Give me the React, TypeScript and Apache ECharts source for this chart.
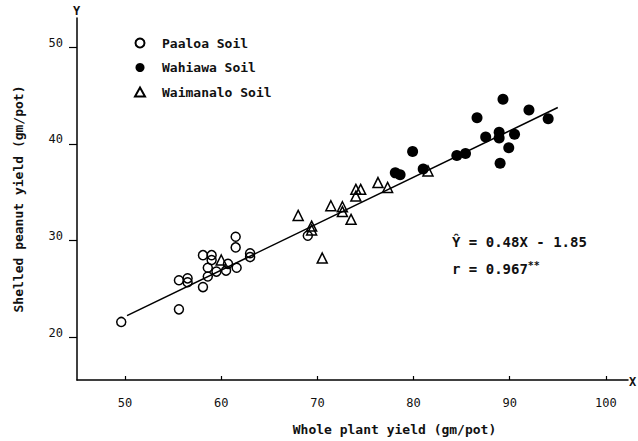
import React, { useEffect, useRef } from "react";
import * as echarts from "echarts";

const seriesNames = ["Paaloa Soil", "Wahiawa Soil", "Waimanalo Soil"];

const paaloaX = [49.6, 55.6, 55.6, 56.5, 56.5, 58.1, 58.1, 59.0, 59.0, 58.6, 58.6, 59.5, 60.7, 60.5, 61.6, 61.5, 61.5, 63.0, 63.0, 69.0];
const paaloaY = [21.6, 22.9, 25.9, 26.1, 25.7, 25.2, 28.5, 28.5, 28.0, 27.2, 26.3, 26.8, 27.6, 26.9, 27.2, 29.3, 30.4, 28.7, 28.3, 30.5];

const wahiawaX = [79.9, 78.1, 78.6, 81.0, 84.5, 85.4, 86.6, 87.5, 88.9, 88.9, 90.5, 89.9, 89.3, 89.0, 92.0, 94.0];
const wahiawaY = [39.2, 37.0, 36.8, 37.4, 38.8, 39.0, 42.7, 40.7, 41.2, 40.6, 41.0, 39.6, 44.6, 38.0, 43.5, 42.6];

const waimanaloX = [60.0, 68.0, 69.4, 69.4, 70.5, 71.4, 72.6, 72.6, 73.5, 74.0, 74.5, 74.0, 76.3, 77.3, 81.5];
const waimanaloY = [28.0, 32.6, 31.5, 31.1, 28.2, 33.6, 33.5, 33.0, 32.2, 35.3, 35.3, 34.6, 36.0, 35.5, 37.2];

const regressionX = [50.2, 95.0];
const regressionY = [22.25, 43.75];

const xTicks = [50, 60, 70, 80, 90, 100];
const yTicks = [20, 30, 40, 50];

const equationText = "Ŷ = 0.48X - 1.85";
const rText = "r = 0.967";
const rSup = "**";

const zip = (xs: number[], ys: number[]) => xs.map((x, i) => [x, ys[i]]);

const MONO = '"DejaVu Sans Mono", "Liberation Mono", monospace';

export default function App() {
  const ref = useRef<HTMLDivElement>(null);
  useEffect(() => {
    if (!ref.current) return;
    const chart = echarts.init(ref.current, undefined, { renderer: "svg" });
    chart.setOption({
      animation: false,
      backgroundColor: "#fff",
      grid: { left: 77, right: 10, top: 18, bottom: 58 },
      legend: {
        orient: "vertical",
        left: 129,
        top: 31,
        padding: 5,
        itemWidth: 10,
        itemHeight: 9,
        itemGap: 10.5,
        data: seriesNames,
        textStyle: {
          fontFamily: MONO,
          fontWeight: "bold",
          fontSize: 13,
          lineHeight: 14,
          color: "#111",
          padding: [0, 0, 0, 12],
        },
      },
      xAxis: {
        type: "value",
        min: 45,
        max: 102.3,
        name: "Whole plant yield (gm/pot)",
        nameLocation: "middle",
        nameGap: 43,
        nameTextStyle: {
          fontFamily: MONO,
          fontWeight: "bold",
          fontSize: 13,
          color: "#111",
          padding: [0, 0, 0, 84],
        },
        splitLine: { show: false },
        axisLine: { lineStyle: { color: "#000", width: 1.5 } },
        axisTick: { inside: true, length: 4, lineStyle: { color: "#000", width: 1.2 }, customValues: xTicks },
        axisLabel: { customValues: xTicks, margin: 17, fontFamily: MONO, fontSize: 12, color: "#111" },
      },
      yAxis: {
        type: "value",
        min: 15.6,
        max: 53,
        name: "Shelled peanut yield (gm/pot)",
        nameLocation: "middle",
        nameGap: 52,
        nameTextStyle: { fontFamily: MONO, fontWeight: "bold", fontSize: 13, color: "#111" },
        splitLine: { show: false },
        axisLine: { lineStyle: { color: "#000", width: 1.5 } },
        axisTick: { inside: false, length: 8, lineStyle: { color: "#000", width: 1.2 }, customValues: yTicks },
        axisLabel: {
          customValues: yTicks,
          margin: 14,
          fontFamily: MONO,
          fontSize: 12,
          lineHeight: 9,
          color: "#111",
          verticalAlign: "bottom",
        },
      },
      graphic: [
        { type: "text", left: 73, top: 5, style: { text: "Y", font: `bold 12px ${MONO}`, fill: "#111" } },
        { type: "text", left: 629, top: 376, style: { text: "X", font: `bold 12px ${MONO}`, fill: "#111" } },
        { type: "text", left: 452, top: 235, style: { text: equationText, font: `bold 14px ${MONO}`, fill: "#111" } },
        {
          type: "text",
          left: 452,
          top: 260,
          style: {
            text: `${rText}{sup|${rSup}}`,
            font: `bold 14px ${MONO}`,
            fill: "#111",
            rich: {
              sup: { fontFamily: MONO, fontWeight: "bold", fontSize: 10, verticalAlign: "top", padding: [0, 0, 8, 0], fill: "#111" },
            },
          },
        },
      ],
      series: [
        {
          type: "line",
          data: zip(regressionX, regressionY),
          showSymbol: false,
          lineStyle: { color: "#000", width: 1.5 },
          z: 1,
          silent: true,
        },
        {
          name: seriesNames[0],
          type: "scatter",
          data: zip(paaloaX, paaloaY),
          symbol: "circle",
          symbolSize: 9,
          itemStyle: { color: "rgba(255,255,255,0)", borderColor: "#000", borderWidth: 1.5, opacity: 1 },
          z: 3,
        },
        {
          name: seriesNames[1],
          type: "scatter",
          data: zip(wahiawaX, wahiawaY),
          symbol: "circle",
          symbolSize: 11,
          itemStyle: { color: "#000", opacity: 1 },
          z: 3,
        },
        {
          name: seriesNames[2],
          type: "scatter",
          data: zip(waimanaloX, waimanaloY),
          symbol: "triangle",
          symbolSize: 10,
          itemStyle: { color: "rgba(255,255,255,0)", borderColor: "#000", borderWidth: 1.5, opacity: 1 },
          z: 3,
        },
      ],
    });
    return () => chart.dispose();
  }, []);
  return (
    <div
      ref={ref}
      style={{ position: "fixed", left: 0, top: 0, width: 638, height: 441, background: "#fff" }}
    />
  );
}
